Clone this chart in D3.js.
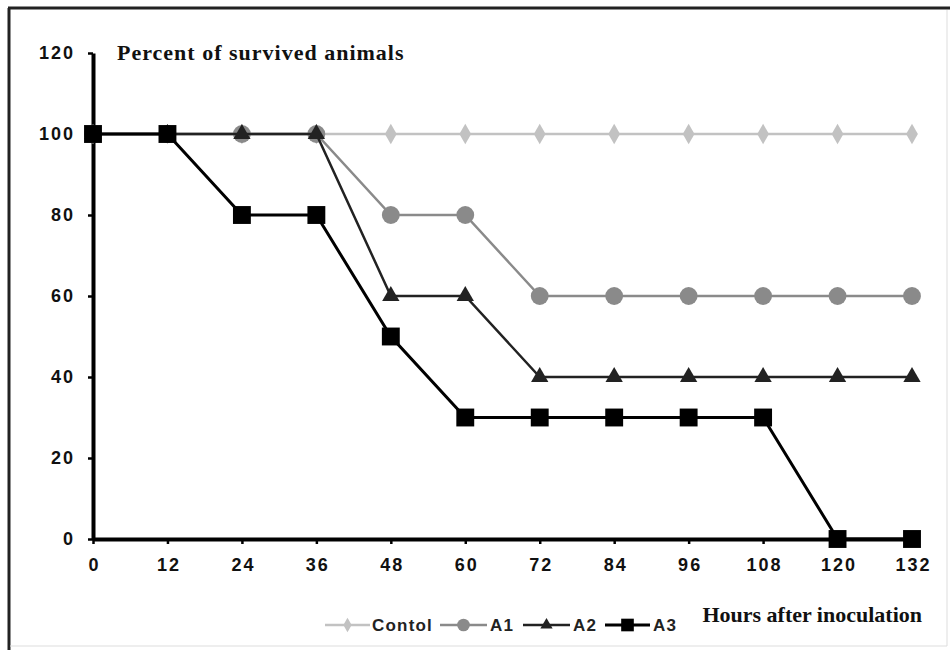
<!DOCTYPE html>
<html>
<head>
<meta charset="utf-8">
<script src="https://cdn.jsdelivr.net/npm/d3@7"></script>
<style>
  body { margin: 0; background: #fff; }
  svg { display: block; }
</style>
</head>
<body>
<svg width="950" height="650"></svg>
<script>
const hours = [0, 12, 24, 36, 48, 60, 72, 84, 96, 108, 120, 132];
const control = [100, 100, 100, 100, 100, 100, 100, 100, 100, 100, 100, 100];
const a1 = [100, 100, 100, 100, 80, 80, 60, 60, 60, 60, 60, 60];
const a2 = [100, 100, 100, 100, 60, 60, 40, 40, 40, 40, 40, 40];
const a3 = [100, 100, 80, 80, 50, 30, 30, 30, 30, 30, 0, 0];
const yTicks = [0, 20, 40, 60, 80, 100, 120];

const series = [
  { name: "Contol", values: control, color: "#c2c2c2", width: 2.5, shape: d3.symbolDiamond, size: 120 },
  { name: "A1", values: a1, color: "#8a8a8a", width: 2.5, shape: d3.symbolCircle, size: 250 },
  { name: "A2", values: a2, color: "#222", width: 2.5, shape: d3.symbolTriangle, size: 130 },
  { name: "A3", values: a3, color: "#000", width: 3, shape: d3.symbolSquare, size: 320 }
];

const svg = d3.select("svg");

// frame
svg.append("line").attr("x1", 8).attr("y1", 8).attr("x2", 950).attr("y2", 8)
  .attr("stroke", "#222").attr("stroke-width", 3);
svg.append("line").attr("x1", 9).attr("y1", 8).attr("x2", 9).attr("y2", 650)
  .attr("stroke", "#222").attr("stroke-width", 3);
svg.append("line").attr("x1", 947).attr("y1", 10).attr("x2", 947).attr("y2", 646)
  .attr("stroke", "#ddd").attr("stroke-width", 1);
svg.append("line").attr("x1", 10).attr("y1", 646).attr("x2", 947).attr("y2", 646)
  .attr("stroke", "#ddd").attr("stroke-width", 1);

const x = d3.scaleLinear().domain([0, 132]).range([93, 912]);
const y = d3.scaleLinear().domain([0, 120]).range([539, 53]);

const xAxis = svg.append("g")
  .attr("transform", `translate(0,${y(0)})`)
  .call(d3.axisBottom(x).tickValues(hours).tickSize(5).tickSizeOuter(0).tickPadding(14));
const yAxis = svg.append("g")
  .attr("transform", `translate(${x(0)},0)`)
  .call(d3.axisLeft(y).tickValues(yTicks).tickSize(5).tickSizeOuter(0).tickPadding(13));

[xAxis, yAxis].forEach(g => {
  g.select(".domain").attr("stroke", "#000").attr("stroke-width", 4);
  g.selectAll(".tick line").attr("stroke", "#000").attr("stroke-width", 2.5);
  g.selectAll(".tick text")
    .attr("fill", "#111")
    .style("font-family", "Arial, 'Liberation Sans', sans-serif")
    .style("font-weight", "bold")
    .style("font-size", "18px")
    .style("letter-spacing", "2px");
});
xAxis.selectAll(".tick line").attr("y1", -1);
xAxis.selectAll(".tick text").attr("dx", "1px");

const line = d3.line()
  .x((d, i) => x(hours[i]))
  .y(d => y(d));

series.forEach(s => {
  svg.append("path")
    .datum(s.values)
    .attr("fill", "none")
    .attr("stroke", s.color)
    .attr("stroke-width", s.width)
    .attr("d", line);
  svg.append("g").selectAll("path")
    .data(s.values)
    .join("path")
    .attr("transform", (d, i) => `translate(${x(hours[i])},${y(d)})`)
    .attr("d", d3.symbol().type(s.shape).size(s.size))
    .attr("fill", s.color);
});

// titles
svg.append("text")
  .attr("x", 117).attr("y", 60)
  .style("font-family", "'Liberation Serif', 'Times New Roman', serif")
  .style("font-weight", "bold")
  .style("font-size", "22px")
  .style("letter-spacing", "1px")
  .attr("fill", "#111")
  .text("Percent of survived animals");

svg.append("text")
  .attr("x", 922).attr("y", 622)
  .attr("text-anchor", "end")
  .style("font-family", "'Liberation Serif', 'Times New Roman', serif")
  .style("font-weight", "bold")
  .style("font-size", "22px")
  .attr("fill", "#111")
  .text("Hours after inoculation");

// legend
const legendPos = [
  { lx1: 325, lx2: 370, tx: 372 },
  { lx1: 440, lx2: 487, tx: 490 },
  { lx1: 523, lx2: 570, tx: 573 },
  { lx1: 605, lx2: 650, tx: 653 }
];
const legend = svg.append("g").attr("transform", "translate(0,625)");
series.forEach((s, i) => {
  const p = legendPos[i];
  legend.append("line")
    .attr("x1", p.lx1).attr("x2", p.lx2)
    .attr("stroke", s.color).attr("stroke-width", s.width);
  legend.append("path")
    .attr("transform", `translate(${(p.lx1 + p.lx2) / 2},0)`)
    .attr("d", d3.symbol().type(s.shape).size(s.size * 0.5))
    .attr("fill", s.color);
  legend.append("text")
    .attr("x", p.tx).attr("y", 6)
    .style("font-family", "Arial, 'Liberation Sans', sans-serif")
    .style("font-weight", "bold")
    .style("font-size", "17px")
    .style("letter-spacing", "1.2px")
    .attr("fill", "#222")
    .text(s.name);
});
</script>
</body>
</html>
